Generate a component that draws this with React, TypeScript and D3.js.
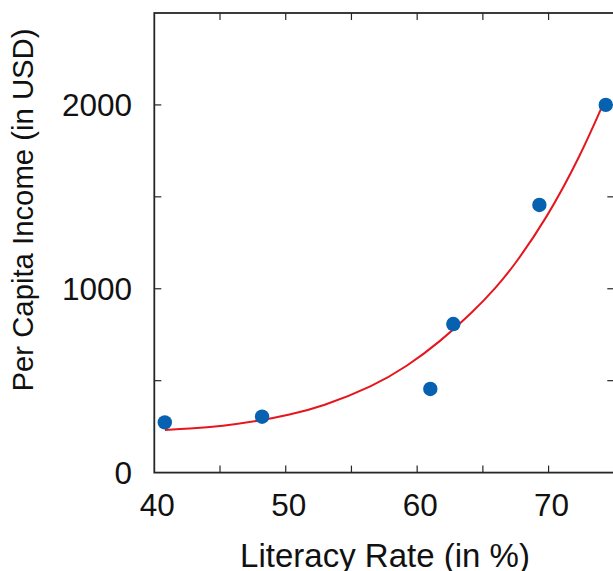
import React from "react";
import * as d3 from "d3";

// Observed country data: literacy rate (%) vs per-capita income (USD)
const literacy = [40.8, 48.2, 61.0, 62.75, 69.3, 74.35];
const income = [273, 304, 455, 808, 1456, 2000];

// Exponential trend line, sampled along literacy rate
const fitLiteracy = [40.81, 42.59, 45.13, 48.17, 50.2, 52.74, 56.66, 59.2, 61.74, 64.27, 66.05, 67.32, 69.86, 72.39, 74.29];
const fitIncome = [232, 238, 252, 284, 313, 358, 470, 576, 712, 875, 1011, 1120, 1383, 1718, 2027];

const xTicks = [40, 50, 60, 70];
const xMinorTicks = [45, 55, 65, 75];
const yTicks = [0, 1000, 2000];
const yMinorTicks = [500, 1500, 2500];

const xTitle = "Literacy Rate (in %)";
const yTitle = "Per Capita Income (in USD)";

const W = 613;
const H = 571;
const plot = { left: 154.3, right: 614.3, top: 13, bottom: 472.6 };
const FONT = "'Liberation Sans', Arial, Helvetica, sans-serif";
const AXIS = "#262626";
const TICK = 7;

export default function App() {
  const x = d3.scaleLinear().domain([40, 75]).range([plot.left, plot.right]);
  const y = d3.scaleLinear().domain([0, 2500]).range([plot.bottom, plot.top]);

  const fitPts: [number, number][] = fitLiteracy.map((v, i) => [v, fitIncome[i]]);
  const line = d3
    .line<[number, number]>()
    .x((d) => x(d[0]))
    .y((d) => y(d[1]))
    .curve(d3.curveBasis);

  const allX = [...xTicks, ...xMinorTicks].filter((v) => v > 40 && v < 75);
  const allY = [...yTicks, ...yMinorTicks].filter((v) => v > 0 && v < 2500);

  return (
    <svg
      width={W}
      height={H}
      viewBox={`0 0 ${W} ${H}`}
      style={{ position: "absolute", left: 0, top: 0, background: "#fff" }}
    >
      <rect x={0} y={0} width={W} height={H} fill="#fff" />

      {/* tick marks on all four sides, pointing inward */}
      <g stroke={AXIS} strokeWidth={1.2}>
        {allX.map((v) => (
          <g key={"xt" + v}>
            <line x1={x(v)} x2={x(v)} y1={plot.bottom} y2={plot.bottom - TICK} />
            <line x1={x(v)} x2={x(v)} y1={plot.top} y2={plot.top + TICK} />
          </g>
        ))}
        {allY.map((v) => (
          <g key={"yt" + v}>
            <line x1={plot.left} x2={plot.left + TICK} y1={y(v)} y2={y(v)} />
            <line x1={plot.right} x2={plot.right - TICK} y1={y(v)} y2={y(v)} />
          </g>
        ))}
      </g>

      {/* trend line */}
      <path d={line(fitPts) ?? ""} fill="none" stroke="#e5161e" strokeWidth={2} />

      {/* data points */}
      <g fill="#0761b1">
        {literacy.map((v, i) => (
          <circle key={"p" + i} cx={x(v)} cy={y(income[i])} r={7.2} />
        ))}
      </g>

      {/* axes box */}
      <rect
        x={plot.left}
        y={plot.top}
        width={plot.right - plot.left}
        height={plot.bottom - plot.top}
        fill="none"
        stroke={AXIS}
        strokeWidth={1.8}
      />

      {/* tick labels */}
      <g fontFamily={FONT} fontSize={31.5} fill="#111">
        {xTicks.map((v) => (
          <text key={"xl" + v} x={x(v) + 3} y={515.5} textAnchor="middle">
            {v}
          </text>
        ))}
        {yTicks.map((v) => (
          <text key={"yl" + v} x={132} y={y(v) + 11.3} textAnchor="end">
            {v}
          </text>
        ))}
      </g>

      {/* axis titles */}
      <text
        x={385}
        y={566.5}
        textAnchor="middle"
        fontFamily={FONT}
        fontSize={33}
        fill="#111"
      >
        {xTitle}
      </text>
      <text
        transform="translate(33,210) rotate(-90)"
        textAnchor="middle"
        fontFamily={FONT}
        fontSize={29.3}
        fill="#111"
      >
        {yTitle}
      </text>
    </svg>
  );
}
